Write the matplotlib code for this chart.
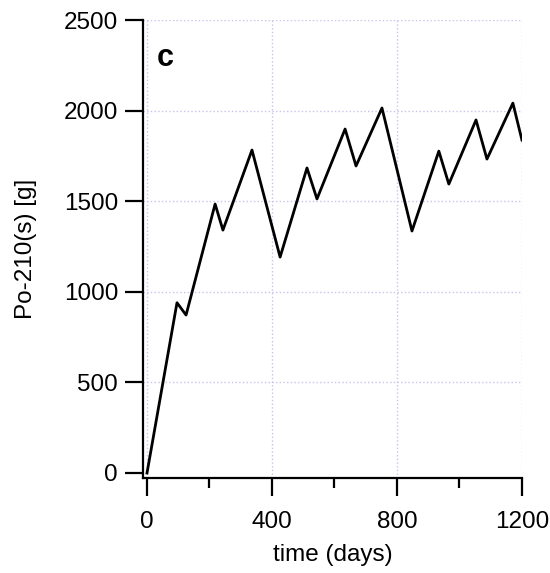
import matplotlib
matplotlib.use("Agg")
import matplotlib.pyplot as plt
import numpy as np

plt.rcParams['font.family'] = ['Liberation Sans', 'DejaVu Sans']

# values (turning points of the curve)
days = [0, 96, 125, 218, 243, 336, 426, 512, 544, 634, 669, 752, 848, 934, 966, 1053, 1088, 1171, 1200]
po210 = [0, 940, 872, 1485, 1341, 1783, 1192, 1684, 1513, 1899, 1695, 2015, 1336, 1777, 1595, 1949, 1733, 2042, 1838]

x_major = [0, 400, 800, 1200]
x_minor = [200, 600, 1000]
y_major = [0, 500, 1000, 1500, 2000, 2500]

fig = plt.figure(figsize=(5.5, 5.73), dpi=100)
ax = fig.add_axes([0.26, 0.1658, 0.689, 0.799])

# grid
for xv in x_major:
    ax.axvline(xv, color='#c4c4ee', linestyle=':', linewidth=1.0, zorder=0)
for yv in y_major[1:]:
    ax.axhline(yv, color='#c4c4ee', linestyle=':', linewidth=1.0, zorder=0)

ax.plot(days, po210, color='black', linewidth=2.0, zorder=3)

ax.set_xlim(-12.8, 1200)
ax.set_ylim(-27.6, 2500)
ax.spines['top'].set_visible(False)
ax.spines['right'].set_visible(False)
ax.spines['left'].set_linewidth(1.6)
ax.spines['bottom'].set_linewidth(1.6)

ax.set_xticks(x_major)
ax.set_xticks(x_minor, minor=True)
ax.set_yticks(y_major)
ax.tick_params(axis='both', which='major', direction='out', length=13, width=1.6, labelsize=17.5)
ax.tick_params(axis='x', which='major', pad=11)
ax.tick_params(axis='y', which='major', pad=5)
ax.tick_params(axis='x', which='minor', direction='out', length=7, width=1.6)

ax.set_xlabel('time (days)', fontsize=17.5, labelpad=8)
ax.set_ylabel('Po-210(s) [g]', fontsize=17.5, labelpad=19)

ax.text(0.036, 0.95, 'c', transform=ax.transAxes, fontsize=22, fontweight='bold', va='top', ha='left')

fig.savefig('out.png', dpi=100)
